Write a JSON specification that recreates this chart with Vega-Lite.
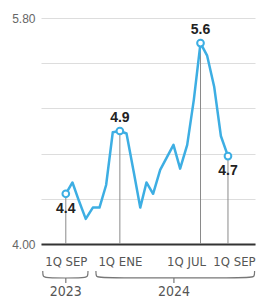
{
  "$schema": "https://vega.github.io/schema/vega-lite/v6.json",
  "padding": {"top": 12, "left": 11, "right": 9, "bottom": 0},
  "background": "white",
  "spacing": 0,
  "config": {"view": {"stroke": null}, "font": "Liberation Sans"},
  "datasets": {
    "s": [
      {"d": "2023-09-01", "v": 4.40},
      {"d": "2023-09-16", "v": 4.49},
      {"d": "2023-10-01", "v": 4.34},
      {"d": "2023-10-16", "v": 4.20},
      {"d": "2023-11-01", "v": 4.29},
      {"d": "2023-11-16", "v": 4.29},
      {"d": "2023-12-01", "v": 4.47},
      {"d": "2023-12-16", "v": 4.89},
      {"d": "2024-01-01", "v": 4.90},
      {"d": "2024-01-16", "v": 4.88},
      {"d": "2024-02-01", "v": 4.58},
      {"d": "2024-02-16", "v": 4.29},
      {"d": "2024-03-01", "v": 4.49},
      {"d": "2024-03-16", "v": 4.40},
      {"d": "2024-04-01", "v": 4.59},
      {"d": "2024-04-16", "v": 4.69},
      {"d": "2024-05-01", "v": 4.79},
      {"d": "2024-05-16", "v": 4.60},
      {"d": "2024-06-01", "v": 4.79},
      {"d": "2024-06-16", "v": 5.15},
      {"d": "2024-07-01", "v": 5.60},
      {"d": "2024-07-16", "v": 5.50},
      {"d": "2024-08-01", "v": 5.25},
      {"d": "2024-08-16", "v": 4.86},
      {"d": "2024-09-01", "v": 4.70}
    ],
    "h": [
      {"d": "2023-09-01", "v": 4.4},
      {"d": "2024-01-01", "v": 4.9},
      {"d": "2024-07-01", "v": 5.6},
      {"d": "2024-09-01", "v": 4.7}
    ],
    "b": [
      {"g": "2023", "i": 0, "d": "2023-07-11", "y": 1},
      {"g": "2023", "i": 1, "d": "2023-07-11", "y": 7},
      {"g": "2023", "i": 2, "d": "2023-07-20", "y": 8},
      {"g": "2023", "i": 3, "d": "2023-10-12", "y": 8},
      {"g": "2023", "i": 4, "d": "2023-10-21", "y": 7},
      {"g": "2023", "i": 5, "d": "2023-10-21", "y": 1},
      {"g": "2024", "i": 0, "d": "2023-11-08", "y": 1},
      {"g": "2024", "i": 1, "d": "2023-11-08", "y": 7},
      {"g": "2024", "i": 2, "d": "2023-11-17", "y": 8},
      {"g": "2024", "i": 3, "d": "2024-10-22", "y": 8},
      {"g": "2024", "i": 4, "d": "2024-10-31", "y": 7},
      {"g": "2024", "i": 5, "d": "2024-10-31", "y": 1}
    ],
    "yr": [
      {"d": "2023-09-01", "yr": "2023"},
      {"d": "2024-05-02", "yr": "2024"}
    ]
  },
  "vconcat": [
    {
      "width": 214,
      "height": 226,
      "encoding": {
        "x": {
          "field": "d", "type": "temporal",
          "scale": {"type": "utc", "domain": [{"year": 2023, "month": 7, "date": 7, "utc": true}, {"year": 2024, "month": 11, "date": 1, "utc": true}]},
          "axis": {
            "title": null,
            "values": [
              {"year": 2023, "month": 9, "date": 1, "utc": true},
              {"year": 2024, "month": 1, "date": 1, "utc": true},
              {"year": 2024, "month": 7, "date": 1, "utc": true},
              {"year": 2024, "month": 9, "date": 1, "utc": true}
            ],
            "labelExpr": "'1Q ' + ['ENE','FEB','MAR','ABR','MAY','JUN','JUL','AGO','SEP','OCT','NOV','DIC'][utcmonth(datum.value)]",
            "grid": false,
            "ticks": false,
            "domainColor": "#333333",
            "domainWidth": 2,
            "labelFont": "DejaVu Sans Condensed",
            "labelFontSize": 13,
            "labelColor": "#555555",
            "labelPadding": 11,
            "labelFlush": false,
            "labelOverlap": false,
            "labelBound": false,
            "labelAlign": {"condition": {"test": "utcmonth(datum.value)==6", "value": "right"}, "value": "center"},
            "labelOffset": {"condition": [
              {"test": "utcmonth(datum.value)==6", "value": 5},
              {"test": "utcmonth(datum.value)==8 && utcyear(datum.value)==2024", "value": 6}
            ], "value": 0}
          }
        },
        "y": {
          "field": "v", "type": "quantitative",
          "scale": {"domain": [4, 5.8], "nice": false, "zero": false},
          "axis": {
            "title": null,
            "values": [4, 4.36, 4.72, 5.08, 5.44, 5.8],
            "labelExpr": "datum.value==4||datum.value==5.8 ? format(datum.value,'.2f') : ''",
            "domain": false,
            "ticks": false,
            "gridColor": "#dddddd",
            "gridWidth": 1,
            "labelColor": "#666666",
            "labelFontSize": 12,
            "labelPadding": 6
          }
        }
      },
      "layer": [
        {
          "data": {"name": "h"},
          "mark": {"type": "rule", "color": "#8a8a8a", "strokeWidth": 1},
          "encoding": {"y2": {"datum": 4}}
        },
        {
          "data": {"name": "s"},
          "mark": {"type": "line", "color": "#3daee3", "strokeWidth": 2.5, "strokeJoin": "round"}
        },
        {
          "data": {"name": "h"},
          "mark": {"type": "point", "shape": "circle", "filled": true, "fill": "white", "stroke": "#3daee3", "strokeWidth": 2, "size": 45, "opacity": 1}
        },
        {
          "data": {"name": "h"},
          "transform": [{"filter": "datum.v > 4.8"}],
          "mark": {"type": "text", "fontWeight": "bold", "fontSize": 14, "color": "#222222", "baseline": "alphabetic", "dy": -9},
          "encoding": {"text": {"field": "v", "type": "quantitative", "format": ".1f"}}
        },
        {
          "data": {"name": "h"},
          "transform": [{"filter": "datum.v <= 4.8"}],
          "mark": {"type": "text", "fontWeight": "bold", "fontSize": 14, "color": "#222222", "baseline": "top", "dy": 8},
          "encoding": {"text": {"field": "v", "type": "quantitative", "format": ".1f"}}
        }
      ]
    },
    {
      "width": 214,
      "height": 30,
      "encoding": {
        "x": {
          "field": "d", "type": "temporal",
          "scale": {"type": "utc", "domain": [{"year": 2023, "month": 7, "date": 7, "utc": true}, {"year": 2024, "month": 11, "date": 1, "utc": true}]},
          "axis": null
        }
      },
      "layer": [
        {
          "data": {"name": "b"},
          "mark": {"type": "line", "interpolate": "basis", "color": "#777777", "strokeWidth": 1.2},
          "encoding": {
            "y": {"field": "y", "type": "quantitative", "scale": {"domain": [0, 30], "reverse": true, "nice": false}, "axis": null},
            "detail": {"field": "g"},
            "order": {"field": "i"}
          }
        },
        {
          "data": {"name": "yr"},
          "mark": {"type": "rule", "color": "#777777", "strokeWidth": 1.2},
          "encoding": {
            "y": {"datum": 8, "type": "quantitative"},
            "y2": {"datum": 13}
          }
        },
        {
          "data": {"name": "yr"},
          "mark": {"type": "text", "font": "DejaVu Sans Condensed", "fontSize": 14, "color": "#555555", "baseline": "alphabetic"},
          "encoding": {
            "y": {"datum": 26, "type": "quantitative"},
            "text": {"field": "yr"}
          }
        }
      ]
    }
  ]
}
